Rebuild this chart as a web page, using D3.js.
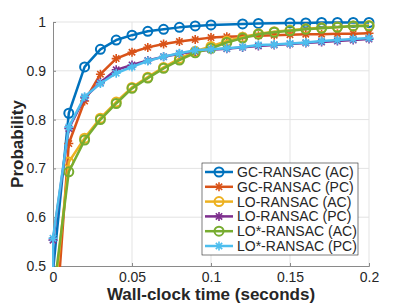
<!DOCTYPE html>
<html lang="en">
<head>
    <meta charset="UTF-8">
    <title>RANSAC probability vs time</title>
    <script src="https://d3js.org/d3.v7.min.js"></script>
    <style>
        body { margin: 0; background: #fff; }
        svg text { font-family: "Liberation Sans", Arial, sans-serif; fill: #262626; }
    </style>
</head>
<body>
    <div id="chart"></div>
    <script>
        // sample times (seconds)
        const time = [0, 0.01, 0.02, 0.03, 0.04, 0.05, 0.06, 0.07, 0.08, 0.09, 0.10,
                      0.11, 0.12, 0.13, 0.14, 0.15, 0.16, 0.17, 0.18, 0.19, 0.20];
        const gcAcTime = [0, 0.01, 0.02, 0.03, 0.04, 0.05, 0.06, 0.07, 0.08, 0.09, 0.10,
                          0.12, 0.13, 0.15, 0.16, 0.17, 0.18, 0.19, 0.20];
        const pcTime = [0, 0, 0.01, 0.02, 0.03, 0.04, 0.05, 0.06, 0.07, 0.08, 0.09, 0.10,
                        0.11, 0.12, 0.13, 0.14, 0.15, 0.16, 0.17, 0.18, 0.19, 0.20];

        const gcAC = [0.49, 0.813, 0.908, 0.944, 0.963, 0.973, 0.981, 0.985, 0.989, 0.992, 0.994,
                      0.996, 0.997, 0.998, 0.998, 0.999, 0.999, 0.999, 0.999];
        const gcPC = [0.30, 0.751, 0.838, 0.893, 0.925, 0.938, 0.948, 0.955, 0.960, 0.964, 0.968,
                      0.970, 0.971, 0.972, 0.973, 0.974, 0.975, 0.975, 0.976, 0.976, 0.977];
        const loAC = [0.41, 0.713, 0.762, 0.803, 0.836, 0.866, 0.887, 0.907, 0.925, 0.940, 0.950,
                      0.961, 0.969, 0.976, 0.980, 0.983, 0.986, 0.988, 0.990, 0.992, 0.993];
        const loPC = [0.40, 0.553, 0.782, 0.845, 0.876, 0.902, 0.912, 0.921, 0.929, 0.935, 0.940, 0.943,
                      0.945, 0.948, 0.951, 0.953, 0.955, 0.957, 0.959, 0.961, 0.963, 0.965];
        const loStarAC = [0.436, 0.693, 0.758, 0.800, 0.833, 0.864, 0.885, 0.905, 0.922, 0.937, 0.946,
                          0.958, 0.967, 0.975, 0.979, 0.982, 0.985, 0.987, 0.989, 0.992, 0.992];
        const loStarPC = [0.40, 0.557, 0.785, 0.847, 0.874, 0.895, 0.908, 0.920, 0.929, 0.936, 0.942, 0.944,
                          0.946, 0.949, 0.953, 0.954, 0.956, 0.958, 0.961, 0.963, 0.965, 0.967];

        const xTicks = [0, 0.05, 0.1, 0.15, 0.2];
        const yTicks = [0.5, 0.6, 0.7, 0.8, 0.9, 1];

        const series = [
            { name: "GC-RANSAC (AC)", t: gcAcTime, v: gcAC, color: "#0072BD", marker: "o" },
            { name: "GC-RANSAC (PC)", t: time, v: gcPC, color: "#D95319", marker: "*" },
            { name: "LO-RANSAC (AC)", t: time, v: loAC, color: "#EDB120", marker: "o" },
            { name: "LO-RANSAC (PC)", t: pcTime, v: loPC, color: "#7E2F8E", marker: "*" },
            { name: "LO*-RANSAC (AC)", t: time, v: loStarAC, color: "#77AC30", marker: "o" },
            { name: "LO*-RANSAC (PC)", t: pcTime, v: loStarPC, color: "#4DBEEE", marker: "*" }
        ];

        const width = 407, height = 305;
        const margin = { left: 53, right: 38, top: 22, bottom: 39 };
        const iw = width - margin.left - margin.right;
        const ih = height - margin.top - margin.bottom;

        const x = d3.scaleLinear().domain([0, 0.2]).range([0, iw]);
        const y = d3.scaleLinear().domain([0.5, 1]).range([ih, 0]);

        const svg = d3.select("#chart").append("svg")
            .attr("width", width)
            .attr("height", height);

        svg.append("defs").append("clipPath").attr("id", "plot-clip")
            .append("rect").attr("x", -1).attr("y", -1).attr("width", iw + 2).attr("height", ih + 2);

        const g = svg.append("g").attr("transform", `translate(${margin.left},${margin.top})`);

        // grid
        g.append("g").selectAll("line").data(xTicks.slice(1)).enter().append("line")
            .attr("x1", d => x(d)).attr("x2", d => x(d))
            .attr("y1", 0).attr("y2", ih)
            .attr("stroke", "#e3e3e3").attr("stroke-width", 1);
        g.append("g").selectAll("line").data(yTicks.slice(1)).enter().append("line")
            .attr("x1", 0).attr("x2", iw)
            .attr("y1", d => y(d)).attr("y2", d => y(d))
            .attr("stroke", "#e3e3e3").attr("stroke-width", 1);

        // axes
        const xAxis = g.append("g").attr("transform", `translate(0,${ih})`)
            .call(d3.axisBottom(x).tickValues(xTicks).tickSize(-3).tickPadding(6)
                .tickFormat(d => d === 0 ? "0" : d3.format("")(d)));
        const yAxis = g.append("g")
            .call(d3.axisLeft(y).tickValues(yTicks).tickSize(-3).tickPadding(7)
                .tickFormat(d => d === 1 ? "1" : d3.format(".1f")(d)));
        [xAxis, yAxis].forEach(a => {
            a.select(".domain").attr("stroke", "#8a8a8a").attr("stroke-width", 1);
            a.selectAll(".tick line").attr("stroke", "#8a8a8a").attr("stroke-width", 1);
            a.selectAll(".tick text").style("font-size", "14px").attr("fill", "#262626")
                .style("font-family", "'Liberation Sans', Arial, sans-serif");
        });

        const starPath = r => {
            const d = r * 0.7071;
            return `M${-r},0L${r},0M0,${-r}L0,${r}M${-d},${-d}L${d},${d}M${-d},${d}L${d},${-d}`;
        };

        const line = d3.line().x(d => x(d[0])).y(d => y(d[1]));

        const drawMarker = (sel, s) => {
            if (s.marker === "o") {
                sel.append("circle").attr("r", 4.5)
                    .attr("fill", "none").attr("stroke", s.color).attr("stroke-width", 2);
            } else {
                sel.append("path").attr("d", starPath(4.5))
                    .attr("fill", "none").attr("stroke", s.color).attr("stroke-width", 1.6);
            }
        };

        series.forEach(s => {
            const pts = s.t.map((t, i) => [t, s.v[i]]);
            const sg = g.append("g");
            sg.append("path").datum(pts)
                .attr("clip-path", "url(#plot-clip)")
                .attr("d", line)
                .attr("fill", "none")
                .attr("stroke", s.color)
                .attr("stroke-width", 2.5)
                .attr("stroke-linejoin", "round");
            sg.selectAll("g.m").data(pts.filter(p => p[1] >= 0.5 && p[1] <= 1)).enter()
                .append("g").attr("class", "m")
                .attr("transform", p => `translate(${x(p[0])},${y(p[1])})`)
                .each(function () { drawMarker(d3.select(this), s); });
        });

        // axis labels
        svg.append("text")
            .attr("x", 211).attr("y", 300)
            .attr("text-anchor", "middle")
            .style("font-size", "17px").style("font-weight", "bold")
            .text("Wall-clock time (seconds)");
        svg.append("text")
            .attr("transform", `translate(23,${margin.top + ih / 2}) rotate(-90)`)
            .attr("text-anchor", "middle")
            .style("font-size", "17px").style("font-weight", "bold")
            .text("Probability");

        // legend
        const lg = svg.append("g").attr("transform", "translate(202,163)");
        lg.append("rect").attr("width", 156).attr("height", 92)
            .attr("fill", "#fff").attr("stroke", "#262626").attr("stroke-width", 0.6);
        series.forEach((s, i) => {
            const row = lg.append("g").attr("transform", `translate(0,${9 + i * 14.8})`);
            row.append("line").attr("x1", 3).attr("x2", 31).attr("y1", 0).attr("y2", 0)
                .attr("stroke", s.color).attr("stroke-width", 2.5);
            const m = row.append("g").attr("transform", "translate(17,0)");
            drawMarker(m, s);
            row.append("text").attr("x", 35).attr("y", 5)
                .style("font-size", "14px")
                .text(s.name);
        });
    </script>
</body>
</html>
